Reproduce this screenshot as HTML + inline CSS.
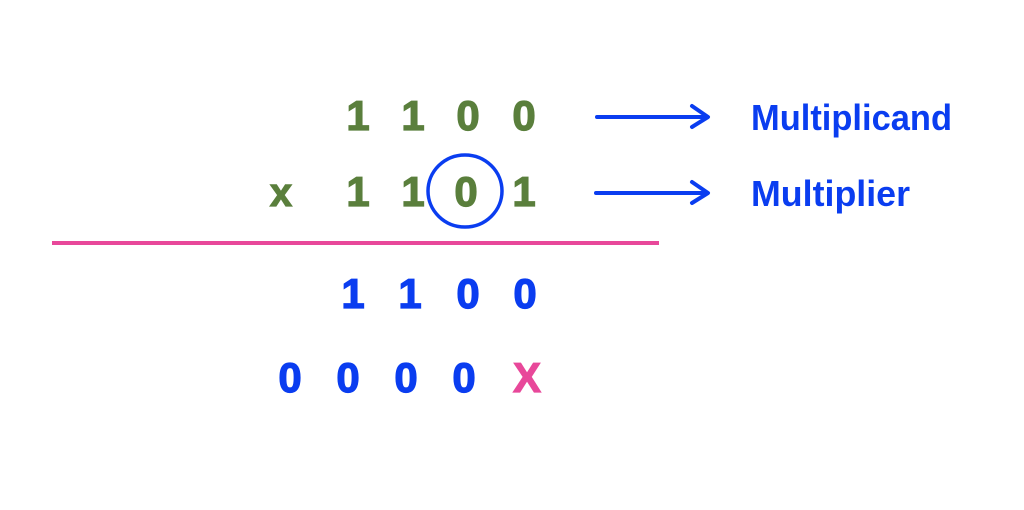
<!DOCTYPE html>
<html><head><meta charset="utf-8"><style>
html,body{margin:0;padding:0;background:#fff;}
svg{display:block;}
text{font-family:"Liberation Sans",sans-serif;font-weight:bold;}
.g{fill:#5a7f3c;stroke:#5a7f3c;stroke-width:1.2;font-size:42px;}
.b{fill:#0a3df0;stroke:#0a3df0;stroke-width:1.2;font-size:42px;}
</style></head><body>
<svg width="1024" height="510" viewBox="0 0 1024 510" xmlns="http://www.w3.org/2000/svg">
<g class="g" text-anchor="middle">
<text x="358" y="130">1</text><text x="413" y="130">1</text><text x="468" y="130">0</text><text x="524" y="130">0</text>
<text x="281" y="206" style="font-size:40px">x</text>
<text x="358" y="206">1</text><text x="413" y="206">1</text><text x="466" y="206">0</text><text x="524" y="206">1</text>
</g>
<ellipse cx="465" cy="191" rx="37" ry="36" fill="none" stroke="#0a3df0" stroke-width="3.5"/>
<line x1="52" y1="243" x2="659" y2="243" stroke="#e8489a" stroke-width="4"/>
<g class="b" text-anchor="middle">
<text x="353" y="308">1</text><text x="410" y="308">1</text><text x="468" y="308">0</text><text x="525" y="308">0</text>
<text x="290" y="392">0</text><text x="348" y="392">0</text><text x="406" y="392">0</text><text x="464" y="392">0</text>
<text x="527" y="392" style="fill:#e8489a;stroke:#e8489a">X</text>
</g>
<g stroke="#0a3df0" stroke-width="4" fill="none" stroke-linecap="round" stroke-linejoin="round">
<line x1="597" y1="117" x2="707" y2="117"/><polyline points="692,106 708,117 692,127"/>
<line x1="596" y1="193" x2="707" y2="193"/><polyline points="692,182 708,193 692,203"/>
</g>
<text x="751" y="130" fill="#0a3df0" font-size="36" textLength="201" lengthAdjust="spacingAndGlyphs">Multiplicand</text>
<text x="751" y="206" fill="#0a3df0" font-size="36" textLength="159" lengthAdjust="spacingAndGlyphs">Multiplier</text>
</svg>
</body></html>
